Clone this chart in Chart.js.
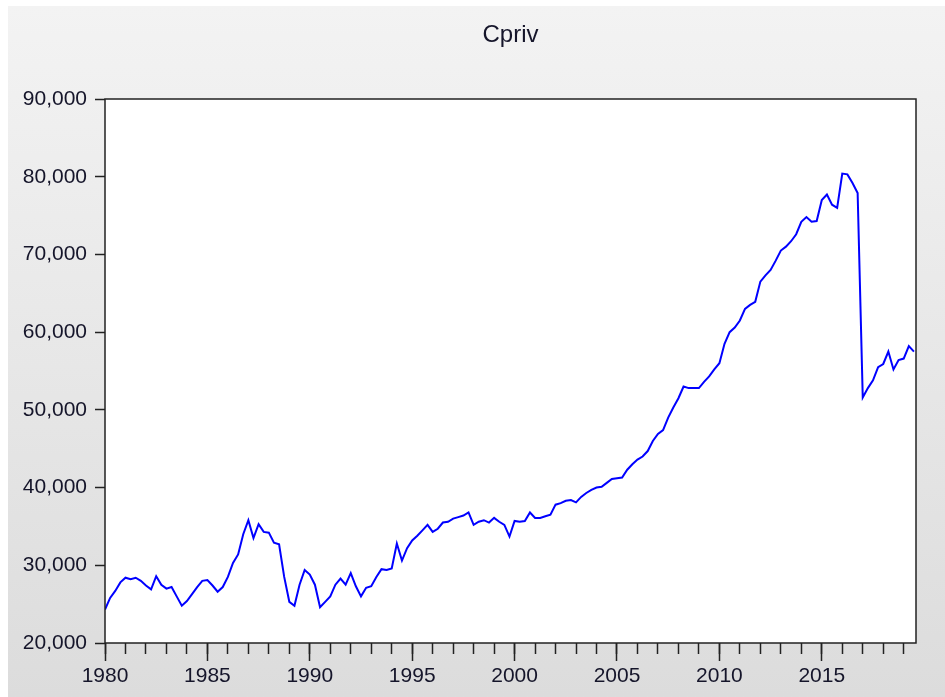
<!DOCTYPE html>
<html>
<head>
<meta charset="utf-8">
<title>Cpriv</title>
<script src="https://cdn.jsdelivr.net/npm/chart.js@4.4.1/dist/chart.umd.min.js"></script>
<style>
  html, body { margin: 0; padding: 0; background: #fff; }
  #wrap { width: 945px; height: 697px; }
</style>
</head>
<body>
<div id="wrap"><canvas id="cpriv" width="945" height="697"></canvas></div>
<script>
// quarterly series, first observation 1980Q1
const startYear = 1980;
const cpriv = [
  24300, 25800, 26700, 27800, 28400, 28200, 28400, 28000, 27400, 26900,
  28600, 27500, 27000, 27200, 26000, 24800, 25400, 26300, 27200, 28000,
  28100, 27400, 26600, 27200, 28500, 30300, 31400, 34000, 35800, 33500,
  35300, 34300, 34200, 32900, 32700, 28500, 25300, 24800, 27500, 29400,
  28800, 27500, 24600, 25300, 26000, 27500, 28300, 27500, 29000, 27300,
  26000, 27100, 27300, 28500, 29500, 29400, 29600, 32800, 30600, 32200,
  33200, 33800, 34500, 35200, 34300, 34700, 35500, 35600, 36000, 36200,
  36400, 36800, 35200, 35600, 35800, 35500, 36100, 35600, 35200, 33700,
  35700, 35600, 35700, 36800, 36100, 36100, 36300, 36500, 37800, 38000,
  38300, 38400, 38100, 38800, 39300, 39700, 40000, 40100, 40600, 41100,
  41200, 41300, 42300, 43000, 43600, 44000, 44700, 46000, 46900, 47400,
  49000, 50300, 51500, 53000, 52800, 52800, 52800, 53600, 54300, 55200,
  56000, 58500, 60000, 60600, 61500, 63000, 63500, 63900, 66500, 67300,
  68000, 69200, 70500, 71000, 71700, 72600, 74200, 74800, 74200, 74300,
  77000, 77700, 76400, 76000, 80400, 80300, 79200, 77900, 51600, 52800,
  53800, 55500, 55900, 57500, 55200, 56400, 56600, 58200, 57500
];
const yTicks = [20000, 30000, 40000, 50000, 60000, 70000, 80000, 90000];
const xMin = 1980;
const xMax = 2019.6;

const fontFamily = '"Liberation Sans", Arial, sans-serif';
const textColor = '#15152a';

// gray panel + white plot box + frame, like the EViews graph window
const framePlugin = {
  id: 'frame',
  beforeDraw(chart) {
    const { ctx, chartArea: a, width, height } = chart;
    ctx.save();
    ctx.fillStyle = '#ffffff';
    ctx.fillRect(0, 0, width, height);
    const g = ctx.createLinearGradient(0, 6, 0, height);
    g.addColorStop(0, '#f3f3f3');
    g.addColorStop(1, '#dcdcdc');
    ctx.fillStyle = g;
    ctx.fillRect(8, 6, width - 8, height - 6);
    ctx.fillStyle = '#ffffff';
    ctx.fillRect(a.left, a.top, a.right - a.left, a.bottom - a.top);
    ctx.restore();
  },
  afterDraw(chart) {
    const { ctx, chartArea: a } = chart;
    ctx.save();
    ctx.strokeStyle = '#222';
    ctx.lineWidth = 1.5;
    ctx.strokeRect(a.left, a.top, a.right - a.left, a.bottom - a.top);
    ctx.restore();
  },
};

const ctx = document.getElementById('cpriv').getContext('2d');
new Chart(ctx, {
  type: 'line',
  data: {
    datasets: [
      {
        label: 'Cpriv',
        data: cpriv.map((v, i) => ({ x: startYear + i / 4, y: v })),
        borderColor: '#0000ff',
        borderWidth: 2,
        pointRadius: 0,
        tension: 0,
      },
    ],
  },
  options: {
    responsive: false,
    animation: false,
    layout: { padding: { left: 0, right: 29, top: 0, bottom: 0 } },
    plugins: {
      legend: { display: false },
      tooltip: { enabled: false },
      title: {
        display: true,
        text: 'Cpriv',
        fullSize: false,
        color: textColor,
        font: { family: fontFamily, size: 24, weight: 'normal' },
        padding: { top: 21, bottom: 49.2 },
      },
    },
    scales: {
      // yearly minor ticks
      x: {
        type: 'linear',
        position: 'bottom',
        min: xMin,
        max: xMax,
        border: { display: false },
        grid: {
          drawOnChartArea: false,
          tickLength: 11,
          tickColor: '#222',
          tickWidth: 1.5,
        },
        ticks: { stepSize: 1, includeBounds: false, display: false, autoSkip: false },
        afterFit: (scale) => { scale.height = 0; },
      },
      // five-year labelled ticks
      x5: {
        type: 'linear',
        position: 'bottom',
        min: xMin,
        max: xMax,
        border: { display: false },
        grid: {
          drawOnChartArea: false,
          tickLength: 18,
          tickColor: '#222',
          tickWidth: 1.5,
        },
        ticks: {
          stepSize: 5,
          includeBounds: false,
          autoSkip: false,
          maxRotation: 0,
          padding: 3,
          color: textColor,
          font: { family: fontFamily, size: 21 },
          callback: (v) => String(v),
        },
        afterFit: (scale) => { scale.height = 54; },
      },
      y: {
        type: 'linear',
        min: yTicks[0],
        max: yTicks[yTicks.length - 1],
        border: { display: false },
        grid: {
          drawOnChartArea: false,
          tickLength: 10,
          tickColor: '#222',
          tickWidth: 1.5,
        },
        afterBuildTicks: (scale) => {
          scale.ticks = yTicks.map((value) => ({ value }));
        },
        ticks: {
          padding: 8,
          color: textColor,
          font: { family: fontFamily, size: 21 },
          callback: (v) => v.toLocaleString('en-US'),
        },
        afterFit: (scale) => { scale.width = 105; },
      },
    },
  },
  plugins: [framePlugin],
});
</script>
</body>
</html>
